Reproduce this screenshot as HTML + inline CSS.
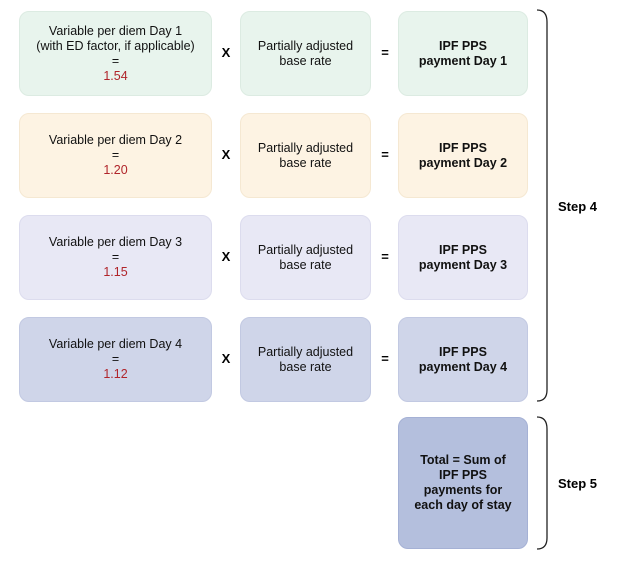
<!DOCTYPE html>
<html><head><style>
body{margin:0;width:624px;height:566px;background:#fff;font-family:"Liberation Sans",sans-serif;position:relative;overflow:hidden}
.b{position:absolute;border-radius:10px;display:flex;align-items:center;justify-content:center;text-align:center;font-size:12.5px;line-height:15px;color:#111;box-sizing:border-box}
.r{color:#b0242a}
.bold{font-weight:bold}
.op{position:absolute;font-weight:bold;font-size:13px;width:20px;text-align:center}
.s{position:absolute;font-weight:bold;font-size:13px}
</style></head><body>
<div class="b" style="left:19px;top:11px;width:193px;height:85px;background:#e8f4ed;border:1px solid #dcebe2"><div>Variable per diem Day 1<br>(with ED factor, if applicable)<br>=<br><span class="r">1.54</span></div></div>
<div class="b" style="left:240px;top:11px;width:131px;height:85px;background:#e8f4ed;border:1px solid #dcebe2"><div>Partially adjusted<br>base rate</div></div>
<div class="b bold" style="left:398px;top:11px;width:130px;height:85px;background:#e8f4ed;border:1px solid #dcebe2"><div>IPF PPS<br>payment Day 1</div></div>

<div class="b" style="left:19px;top:113px;width:193px;height:85px;background:#fdf3e3;border:1px solid #f5e8d2"><div>Variable per diem Day 2<br>=<br><span class="r">1.20</span></div></div>
<div class="b" style="left:240px;top:113px;width:131px;height:85px;background:#fdf3e3;border:1px solid #f5e8d2"><div>Partially adjusted<br>base rate</div></div>
<div class="b bold" style="left:398px;top:113px;width:130px;height:85px;background:#fdf3e3;border:1px solid #f5e8d2"><div>IPF PPS<br>payment Day 2</div></div>

<div class="b" style="left:19px;top:215px;width:193px;height:85px;background:#e8e8f5;border:1px solid #dcdcee"><div>Variable per diem Day 3<br>=<br><span class="r">1.15</span></div></div>
<div class="b" style="left:240px;top:215px;width:131px;height:85px;background:#e8e8f5;border:1px solid #dcdcee"><div>Partially adjusted<br>base rate</div></div>
<div class="b bold" style="left:398px;top:215px;width:130px;height:85px;background:#e8e8f5;border:1px solid #dcdcee"><div>IPF PPS<br>payment Day 3</div></div>

<div class="b" style="left:19px;top:317px;width:193px;height:85px;background:#cfd5e9;border:1px solid #c2c9e2"><div>Variable per diem Day 4<br>=<br><span class="r">1.12</span></div></div>
<div class="b" style="left:240px;top:317px;width:131px;height:85px;background:#cfd5e9;border:1px solid #c2c9e2"><div>Partially adjusted<br>base rate</div></div>
<div class="b bold" style="left:398px;top:317px;width:130px;height:85px;background:#cfd5e9;border:1px solid #c2c9e2"><div>IPF PPS<br>payment Day 4</div></div>

<div class="b bold" style="left:398px;top:417px;width:130px;height:132px;background:#b4bfdd;border:1px solid #a5b1d5"><div>Total = Sum of<br>IPF PPS<br>payments for<br>each day of stay</div></div>

<div class="op" style="left:216px;top:45px">X</div>
<div class="op" style="left:216px;top:147px">X</div>
<div class="op" style="left:216px;top:249px">X</div>
<div class="op" style="left:216px;top:351px">X</div>
<div class="op" style="left:375px;top:45px">=</div>
<div class="op" style="left:375px;top:147px">=</div>
<div class="op" style="left:375px;top:249px">=</div>
<div class="op" style="left:375px;top:351px">=</div>

<svg style="position:absolute;left:0;top:0" width="624" height="566">
<path d="M537,10 Q547,10 547,22 L547,390 Q547,401 537,401" fill="none" stroke="#222" stroke-width="1.3"/>
<path d="M537,417 Q547,417 547,429 L547,538 Q547,549 537,549" fill="none" stroke="#222" stroke-width="1.3"/>
</svg>
<div class="s" style="left:558px;top:199px">Step 4</div>
<div class="s" style="left:558px;top:476px">Step 5</div>
</body></html>
